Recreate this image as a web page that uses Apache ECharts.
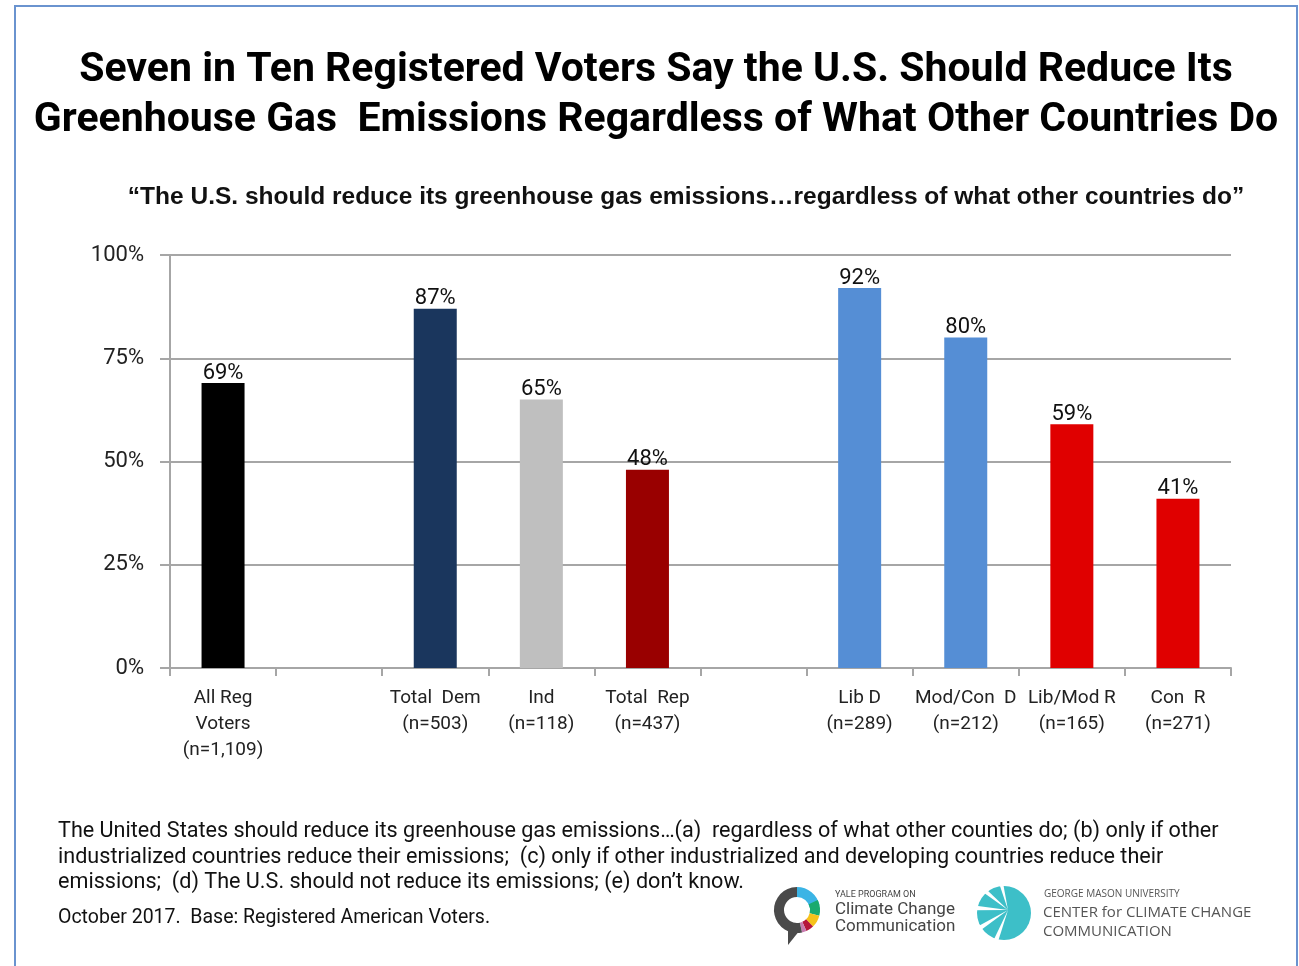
<!DOCTYPE html>
<html>
<head>
<meta charset="utf-8">
<script src="https://cdn.jsdelivr.net/npm/echarts@6/dist/echarts.min.js"></script>
<style>
html,body{margin:0;padding:0;background:#fff;}
#c{width:1299px;height:966px;}
</style>
</head>
<body>
<div id="c"></div>
<script>
const categories = ['All Reg\nVoters\n(n=1,109)', '', 'Total  Dem\n(n=503)', 'Ind\n(n=118)', 'Total  Rep\n(n=437)', '', 'Lib D\n(n=289)', 'Mod/Con  D', 'Lib/Mod R\n(n=165)', 'Con  R\n(n=271)'];
const values = [69, null, 87, 65, 48, null, 92, 80, 59, 41];
const barColors = ['#000000', '#ffffff', '#1A365D', '#BFBFBF', '#990000', '#ffffff', '#558ED5', '#558ED5', '#E00000', '#E00000'];
const yTicks = [0, 25, 50, 75, 100];
const modConSecondLine = '(n=212)';

const chart = echarts.init(document.getElementById('c'));
const FONT = 'Roboto';
const rays = [];
for (let k = 0; k < 5; k++) {
  const a = Math.PI * (0.62 + k * 0.2);
  rays.push({ type: 'polygon', shape: { points: [[1008, 910], [1008 + 34 * Math.cos(a - 0.07), 910 + 34 * Math.sin(a - 0.07)], [1008 + 34 * Math.cos(a + 0.07), 910 + 34 * Math.sin(a + 0.07)]] }, style: { fill: '#ffffff' } });
}
chart.setOption({
  backgroundColor: '#fff',
  animation: false,
  textStyle: { fontFamily: FONT },
  grid: { left: 170, right: 68, top: 255, bottom: 298, containLabel: false },
  xAxis: {
    type: 'category',
    data: categories.map((c, i) => i === 7 ? c + '\n' + modConSecondLine : c),
    axisLine: { lineStyle: { color: '#A6A6A6', width: 2 } },
    axisTick: { show: true, alignWithLabel: false, interval: 0, length: 8, lineStyle: { color: '#A6A6A6', width: 2 } },
    axisLabel: { interval: 0, fontSize: 19, color: '#222', lineHeight: 26, margin: 17, fontFamily: FONT }
  },
  yAxis: {
    type: 'value', min: 0, max: 100, interval: 25,
    axisLine: { show: true, lineStyle: { color: '#A6A6A6', width: 2 } },
    axisTick: { show: true, length: 10, lineStyle: { color: '#A6A6A6', width: 2 } },
    splitLine: { lineStyle: { color: '#A6A6A6', width: 2 } },
    axisLabel: { formatter: '{value}%', fontSize: 22, color: '#222', margin: 26, fontFamily: FONT, padding: [8, 0, 0, 0] }
  },
  series: [{
    type: 'bar',
    barWidth: 43,
    data: values.map((v, i) => ({ value: v, itemStyle: { color: barColors[i] } })),
    label: { show: true, position: 'top', distance: -1, fontSize: 22, color: '#111', fontFamily: FONT,
      formatter: p => p.value == null ? '' : p.value + '%' }
  }],
  graphic: [
    { type: 'rect', shape: { x: 15, y: 6, width: 1282, height: 970 }, style: { fill: 'none', stroke: '#6A93CF', lineWidth: 2 }, silent: true },
    { type: 'text', x: 656, y: 46, style: { text: 'Seven in Ten Registered Voters Say the U.S. Should Reduce Its\nGreenhouse Gas  Emissions Regardless of What Other Countries Do', font: 'bold 41px Roboto', fill: '#000', textAlign: 'center', lineHeight: 50 } },
    { type: 'text', x: 686, y: 197, style: { text: '\u201CThe U.S. should reduce its greenhouse gas emissions\u2026regardless of what other countries do\u201D', font: 'bold 24.5px "Liberation Sans"', fill: '#111', textAlign: 'center', textVerticalAlign: 'middle' } },
    { type: 'text', x: 58, y: 819, style: { text: 'The United States should reduce its greenhouse gas emissions\u2026(a)  regardless of what other counties do; (b) only if other\nindustrialized countries reduce their emissions;  (c) only if other industrialized and developing countries reduce their\nemissions;  (d) The U.S. should not reduce its emissions; (e) don\u2019t know.', font: '21.6px Roboto', fill: '#111', lineHeight: 25.5 } },
    { type: 'text', x: 58, y: 908, style: { text: 'October 2017.  Base: Registered American Voters.', font: '19.5px Roboto', fill: '#111' } },
    // Yale logo
    { type: 'arc', shape: { cx: 797, cy: 910, r: 18, startAngle: -Math.PI/2, endAngle: -0.2, clockwise: true }, style: { stroke: '#3BB4E5', lineWidth: 10, fill: 'none' } },
    { type: 'arc', shape: { cx: 797, cy: 910, r: 18, startAngle: -0.45, endAngle: 0.25, clockwise: true }, style: { stroke: '#1AAA6E', lineWidth: 10, fill: 'none' } },
    { type: 'arc', shape: { cx: 797, cy: 910, r: 18, startAngle: 0.25, endAngle: 0.8, clockwise: true }, style: { stroke: '#F6C21B', lineWidth: 10, fill: 'none' } },
    { type: 'arc', shape: { cx: 797, cy: 910, r: 18, startAngle: 0.8, endAngle: 1.15, clockwise: true }, style: { stroke: '#B5163B', lineWidth: 10, fill: 'none' } },
    { type: 'arc', shape: { cx: 797, cy: 910, r: 18, startAngle: 1.15, endAngle: 1.35, clockwise: true }, style: { stroke: '#C77BB0', lineWidth: 10, fill: 'none' } },
    { type: 'arc', shape: { cx: 797, cy: 910, r: 18, startAngle: 1.35, endAngle: 3 * Math.PI / 2, clockwise: true }, style: { stroke: '#4A4A4A', lineWidth: 10, fill: 'none' } },
    { type: 'polygon', shape: { points: [[788, 927], [800, 930], [788, 945]] }, style: { fill: '#4A4A4A' } },
    { type: 'text', x: 835, y: 890, style: { text: 'YALE PROGRAM ON', font: '9px Roboto', fill: '#444' } },
    { type: 'text', x: 835, y: 901, style: { text: 'Climate Change\nCommunication', font: '17px Roboto', fill: '#444', lineHeight: 17 } },
    // GMU logo
    { type: 'circle', shape: { cx: 1004, cy: 913, r: 27 }, style: { fill: '#3DBFC8' } },
    ...rays,
    { type: 'text', x: 1044, y: 889, style: { text: 'GEORGE MASON UNIVERSITY', font: '10px "Open Sans"', fill: '#555' } },
    { type: 'text', x: 1043, y: 903, style: { text: 'CENTER for CLIMATE CHANGE\nCOMMUNICATION', font: '15px "Open Sans"', fill: '#555', lineHeight: 19 } }
  ]
});
</script>
</body>
</html>
